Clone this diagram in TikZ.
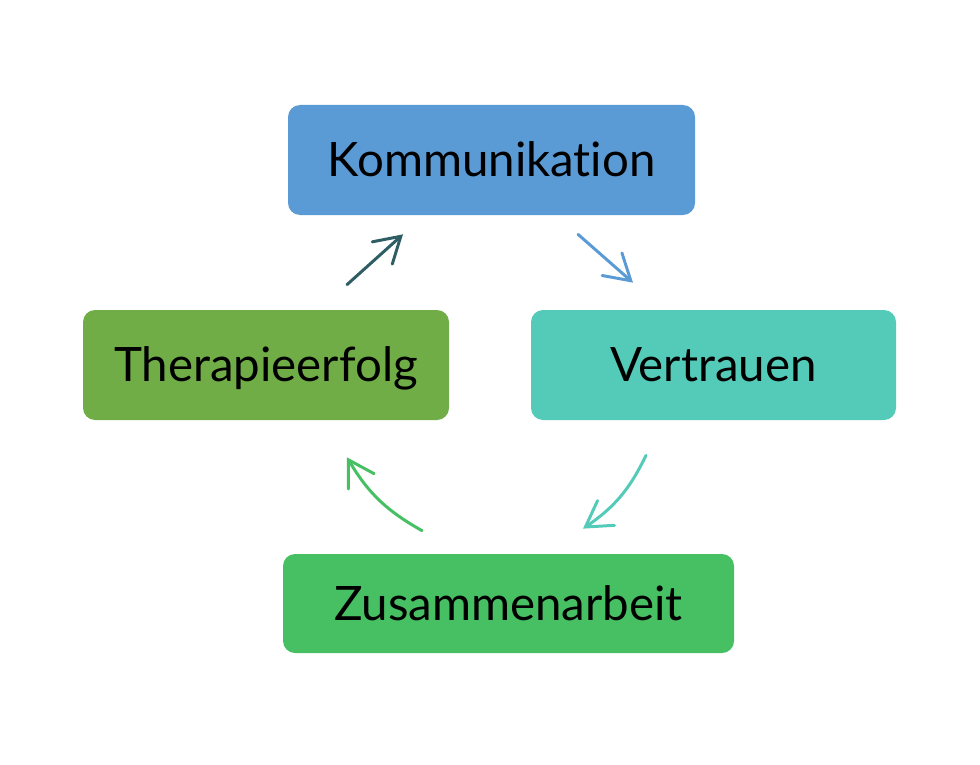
\documentclass[tikz,border=0pt]{standalone}
\usepackage{fontspec}
\setmainfont{Lato}[Ligatures=NoCommon]
\usetikzlibrary{arrows.meta}
\definecolor{kommblue}{HTML}{5B9BD5}
\definecolor{vertrteal}{HTML}{54CBB9}
\definecolor{therapgreen}{HTML}{70AD47}
\definecolor{zusamgreen}{HTML}{47BF63}
\definecolor{darkteal}{HTML}{2E5E64}
\tikzset{
  cbox/.style={rounded corners=0.24cm,minimum height=2.2cm,inner sep=0pt,
    text height=19pt,text depth=0pt,font=\fontsize{27}{31}\selectfont},
  carrow/.style={line width=1.7pt,line cap=round,-{Straight Barb[length=0.5cm,width=0.6cm,line cap=round]}}
}
\newcommand{\cbox}[6]{\node[cbox,fill=#3,minimum width=#4cm,minimum height=#5cm] (#1) at (#2) {#6};}

\begin{document}
\begin{tikzpicture}
	\useasboundingbox (0,0) rectangle (19.6,-15.3);
	\cbox{komm}{9.83,-3.2}{kommblue}{8.14}{2.2}{Kommunikation}
	\cbox{therap}{5.32,-7.3}{therapgreen}{7.32}{2.2}{Therapieerfolg}
	\cbox{vertr}{14.27,-7.3}{vertrteal}{7.3}{2.2}{Vertrauen}
	\cbox{zusam}{10.17,-12.07}{zusamgreen}{9.02}{1.98}{Zusammenarbeit}
	% arrow ends near the boxes
	\coordinate (a1) at ([shift={(1.62,0.5)}]therap.north);
	\coordinate (b1) at ([shift={(-1.77,-0.38)}]komm.south);
	\coordinate (a2) at ([shift={(1.73,-0.38)}]komm.south);
	\coordinate (b2) at ([shift={(-1.61,0.54)}]vertr.north);
	\coordinate (a3) at ([shift={(-1.35,-0.7)}]vertr.south);
	\coordinate (b3) at ([shift={(1.49,0.5)}]zusam.north);
	\coordinate (a4) at ([shift={(-1.73,0.46)}]zusam.north);
	\coordinate (b4) at ([shift={(1.62,-0.74)}]therap.south);
	\draw[carrow,darkteal] (a1) -- (b1);
	\draw[carrow,kommblue] (a2) -- (b2);
	\draw[carrow,vertrteal] (a3) to[bend left=15] (b3);
	\draw[carrow,zusamgreen] (a4) to[bend left=15] (b4);
\end{tikzpicture}
\end{document}
